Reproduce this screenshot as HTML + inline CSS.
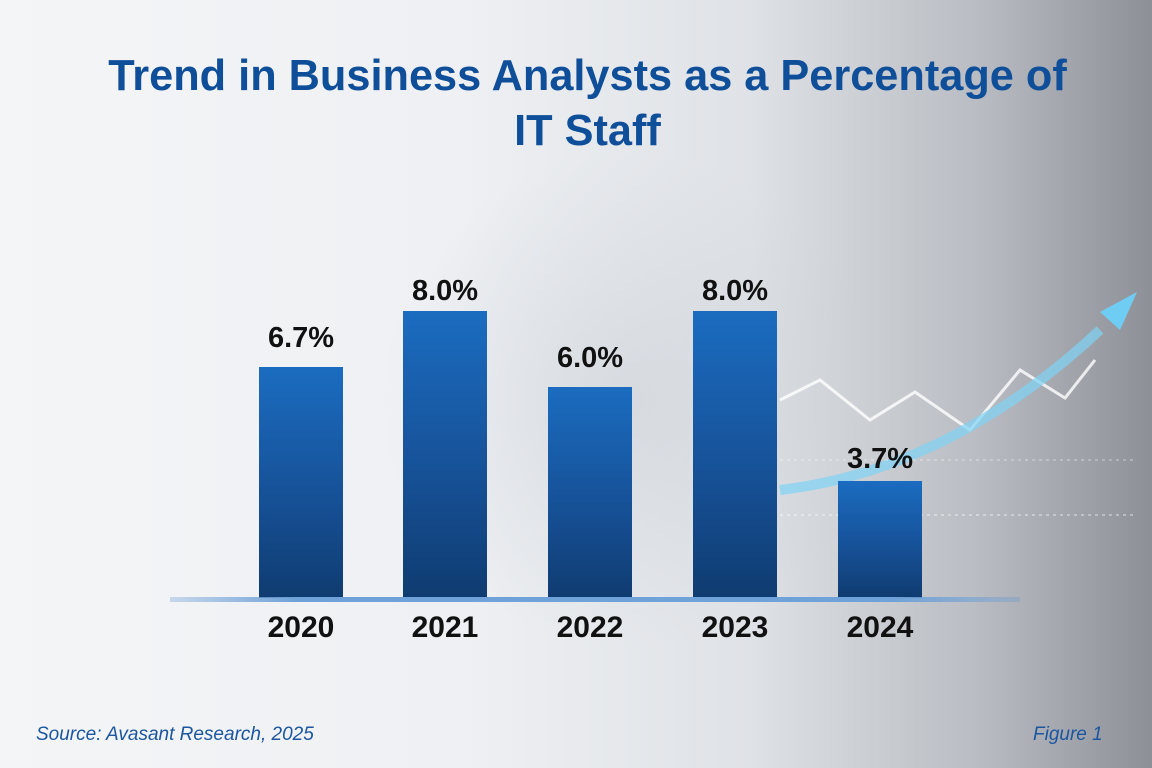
<!DOCTYPE html>
<html><head><meta charset="utf-8"><style>
html,body{margin:0;padding:0}
body{width:1152px;height:768px;position:relative;overflow:hidden;font-family:"Liberation Sans",sans-serif;
background:linear-gradient(90deg,#f4f5f7 0%,#eef0f3 40%,#dfe2e6 65%,#b9bcc2 85%,#8d9097 100%);}
.glow{position:absolute;left:380px;top:150px;width:500px;height:500px;border-radius:50%;background:radial-gradient(circle,rgba(200,205,212,0.5),rgba(255,255,255,0) 70%)}
.title{position:absolute;left:0;width:1175px;text-align:center;color:#0f4e99;font-weight:bold;font-size:43.3px;letter-spacing:0px}
.bar{position:absolute;width:84px;background:linear-gradient(180deg,#1b6cc0 0%,#164f94 60%,#0f3c70 100%)}
.val{position:absolute;width:140px;text-align:center;font-weight:bold;font-size:29px;color:#111}
.yr{position:absolute;top:611px;width:140px;text-align:center;font-weight:bold;font-size:30px;color:#111}
.base{position:absolute;left:170px;top:597px;width:850px;height:5px;background:linear-gradient(90deg,rgba(100,150,210,0.3),#6fa2d8 15%,#6fa2d8 85%,rgba(100,150,210,0.3))}
.src{position:absolute;top:724px;font-style:italic;color:#1b56a0;font-size:19px}
</style></head><body>
<div class="glow"></div>
<svg style="position:absolute;left:0;top:0" width="1152" height="768">
<polyline points="780,400 820,380 870,420 915,392 970,430 1020,370 1065,398 1095,360" fill="none" stroke="#fff" stroke-width="3" opacity="0.8"/>
<path d="M780,490 Q950,470 1100,330" fill="none" stroke="#7fd3f5" stroke-width="10" opacity="0.7"/>
<polygon points="1137,292 1100,312 1120,330" fill="#6fcdf3"/>
<line x1="780" y1="515" x2="1135" y2="515" stroke="#fff" stroke-dasharray="3,4" opacity="0.7"/>
<line x1="780" y1="460" x2="1135" y2="460" stroke="#fff" stroke-dasharray="3,4" opacity="0.5"/>
</svg>
<div class="title" style="top:52px">Trend in Business Analysts as a Percentage of</div>
<div class="title" style="top:107px">IT Staff</div>
<div class="bar" style="left:259px;top:367px;height:231px"></div>
<div class="bar" style="left:403px;top:311px;height:287px"></div>
<div class="bar" style="left:548px;top:387px;height:211px"></div>
<div class="bar" style="left:693px;top:311px;height:287px"></div>
<div class="bar" style="left:838px;top:481px;height:117px"></div>
<div class="base"></div>
<div class="val" style="left:231px;top:322px">6.7%</div>
<div class="val" style="left:375px;top:275px">8.0%</div>
<div class="val" style="left:520px;top:342px">6.0%</div>
<div class="val" style="left:665px;top:275px">8.0%</div>
<div class="val" style="left:810px;top:443px">3.7%</div>
<div class="yr" style="left:231px">2020</div>
<div class="yr" style="left:375px">2021</div>
<div class="yr" style="left:520px">2022</div>
<div class="yr" style="left:665px">2023</div>
<div class="yr" style="left:810px">2024</div>
<div class="src" style="left:36px">Source: Avasant Research, 2025</div>
<div class="src" style="left:1033px">Figure 1</div>
</body></html>
